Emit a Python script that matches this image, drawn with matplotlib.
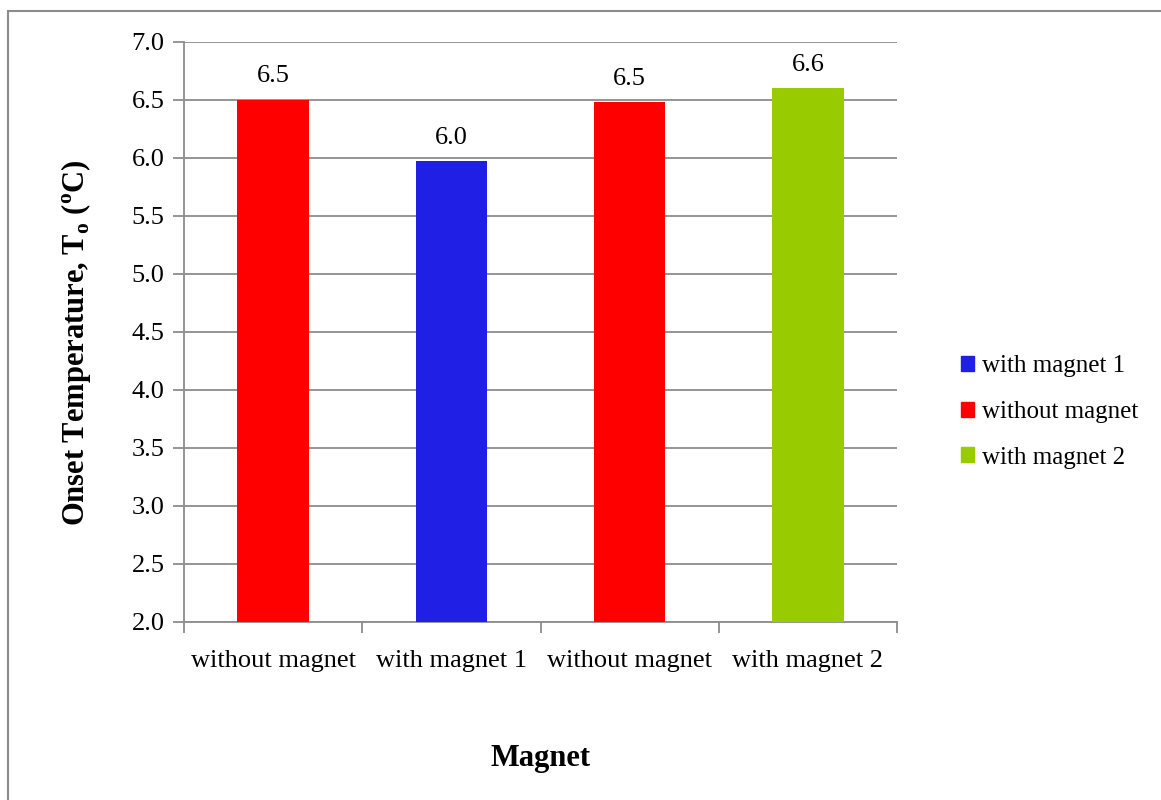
import matplotlib.pyplot as plt
from matplotlib.patches import Patch, Rectangle

plt.rcParams['font.family'] = ['Liberation Serif', 'DejaVu Serif']
plt.rcParams['mathtext.fontset'] = 'custom'
plt.rcParams['mathtext.rm'] = 'Liberation Serif'
plt.rcParams['mathtext.bf'] = 'Liberation Serif:bold'

categories = ['without magnet', 'with magnet 1', 'without magnet', 'with magnet 2']
onset_temp = [6.50, 5.97, 6.48, 6.60]
bar_colors = ['#ff0000', '#1f1fe6', '#ff0000', '#99cc00']

legend_labels = ['with magnet 1', 'without magnet', 'with magnet 2']
legend_colors = ['#1f1fe6', '#ff0000', '#99cc00']

fig = plt.figure(figsize=(11.61, 8.0), dpi=100)
# outer chart frame (runs off the right and bottom edge)
fig.patches.append(Rectangle((8 / 1161, -0.05), 1.2, 1 - 11 / 800 + 0.05,
                             transform=fig.transFigure, fill=False,
                             edgecolor='#8c8c8c', linewidth=1.5))

ax = fig.add_axes([184 / 1161, 1 - 622 / 800, (897 - 184) / 1161, (622 - 42) / 800])

x = range(len(categories))
bars = ax.bar(x, onset_temp, width=0.4, color=bar_colors, zorder=3)
for b, v in zip(bars, onset_temp):
    ax.annotate(f'{v:.1f}', (b.get_x() + b.get_width() / 2, v),
                xytext=(0, 9), textcoords='offset points',
                ha='center', va='bottom', fontsize=19)

ax.set_xlim(-0.5, len(categories) - 0.5)
ax.set_ylim(2.0, 7.0)
ax.set_yticks([2.0 + 0.5 * i for i in range(11)])
ax.set_yticklabels([f'{2.0 + 0.5 * i:.1f}' for i in range(11)], fontsize=19)
ax.yaxis.grid(True, color='#8c8c8c', linewidth=1.3, zorder=0)

ax.set_xticks(list(x))
ax.set_xticklabels(categories, fontsize=19)
ax.set_xticks([i - 0.5 for i in range(len(categories) + 1)], minor=True)
ax.tick_params(axis='x', which='major', length=0, pad=20)
ax.tick_params(axis='x', which='minor', length=8, color='#8c8c8c', width=1.3)
ax.tick_params(axis='y', length=8, color='#8c8c8c', width=1.3, pad=6)

for side in ['top', 'right']:
    ax.spines[side].set_visible(False)
for side in ['left', 'bottom']:
    ax.spines[side].set_color('#8c8c8c')
    ax.spines[side].set_linewidth(1.3)

ax.set_ylabel('Onset Temperature, T$_\\mathbf{o}$ ($^\\mathbf{o}$C)',
              fontsize=22, fontweight='bold')
ax.yaxis.set_label_coords(-0.127, 0.482)
ax.set_xlabel('Magnet', fontsize=22, fontweight='bold', labelpad=52)

handles = [Patch(color=c, label=l) for c, l in zip(legend_colors, legend_labels)]
fig.legend(handles=handles, loc='center left', bbox_to_anchor=(938 / 1161, 1 - 412 / 800),
           frameon=False, fontsize=18, handlelength=0.55, handleheight=0.55,
           handletextpad=0.3, labelspacing=0.95)

fig.savefig('out.png', dpi=100)
